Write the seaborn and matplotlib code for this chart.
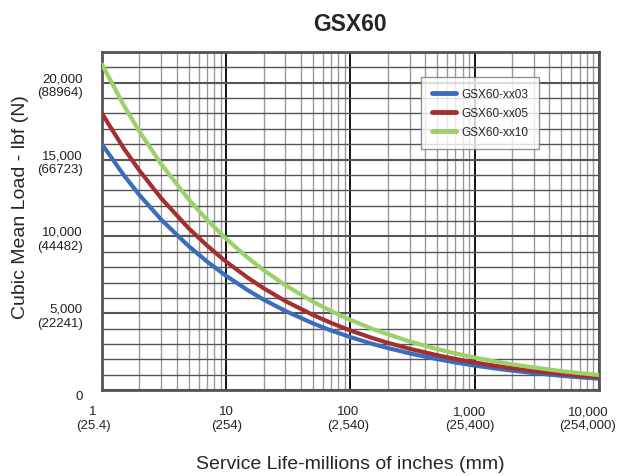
import matplotlib
matplotlib.use('Agg')
import matplotlib.pyplot as plt
from matplotlib.ticker import FixedLocator, MultipleLocator, NullFormatter
from matplotlib.transforms import ScaledTranslation
import pandas as pd
import numpy as np
import seaborn as sns

sns.set_style('white')
plt.rcParams['font.family'] = ['Liberation Sans', 'DejaVu Sans']

# service life, millions of inches
life = [1, 1.5, 2, 3, 5, 7, 10, 15, 20, 30, 50, 70, 100, 150, 200, 300, 500, 700,
        1000, 1500, 2000, 3000, 5000, 7000, 10000]

# cubic mean load, lbf
load_xx03 = [16000, 13980, 12700, 11090, 9360, 8370, 7430, 6490, 5890, 5150, 4340,
             3880, 3450, 3010, 2740, 2390, 2020, 1800, 1600, 1400, 1270, 1110, 935,
             840, 745]
load_xx05 = [18000, 15720, 14290, 12480, 10520, 9410, 8350, 7300, 6630, 5790, 4890,
             4370, 3880, 3390, 3080, 2690, 2270, 2030, 1800, 1570, 1430, 1250, 1050,
             940, 835]
load_xx10 = [21200, 18520, 16830, 14700, 12400, 11080, 9840, 8600, 7810, 6820, 5750,
             5140, 4570, 3990, 3630, 3170, 2670, 2390, 2120, 1850, 1680, 1470, 1240,
             1110, 985]

names = ['GSX60-xx03', 'GSX60-xx05', 'GSX60-xx10']
colors = ['#3a6dbb', '#a3302f', '#9bd06a']

x_ticks = [1, 10, 100, 1000, 10000]
x_labels = ['1\n(25.4)', '10\n(254)', '100\n(2,540)', '1,000\n(25,400)',
            '10,000\n(254,000)']
y_ticks = [0, 5000, 10000, 15000, 20000]
y_labels = ['0', '5,000\n(22241)', '10,000\n(44482)', '15,000\n(66723)',
            '20,000\n(88964)']

df = pd.DataFrame({
    'life': life * 3,
    'load': load_xx03 + load_xx05 + load_xx10,
    'model': [names[0]] * len(life) + [names[1]] * len(life) + [names[2]] * len(life),
})

fig = plt.figure(figsize=(6.18, 4.77), dpi=100)
ax = fig.add_axes([0.165, 0.180, 0.804, 0.709])

sns.lineplot(data=df, x='life', y='load', hue='model', palette=colors,
             linewidth=3, ax=ax, zorder=5)

ax.set_xscale('log')
ax.set_xlim(1, 10000)
ax.set_ylim(0, 22000)

# grid
ax.yaxis.set_major_locator(FixedLocator(y_ticks))
ax.yaxis.set_minor_locator(MultipleLocator(1000))
minor_x = [m * 10 ** d for d in range(4) for m in range(2, 10)]
ax.xaxis.set_major_locator(FixedLocator(x_ticks))
ax.xaxis.set_minor_locator(FixedLocator(minor_x))
ax.xaxis.set_minor_formatter(NullFormatter())

ax.grid(which='major', axis='x', color='black', linewidth=1.3)
ax.grid(which='minor', axis='x', color='#9a9a9a', linewidth=1.0)
ax.grid(which='major', axis='y', color='#555555', linewidth=1.5)
ax.grid(which='minor', axis='y', color='#555555', linewidth=1.0)

ax.set_yticklabels(y_labels)
ax.set_xticklabels(x_labels)

ax.tick_params(axis='both', which='both', direction='out', length=3, width=1,
               color='#555555', labelsize=9.5, labelcolor='#222222')
ax.tick_params(axis='x', which='major', pad=8)
ax.tick_params(axis='y', which='major', pad=11)
for s in ax.spines.values():
    s.set_color('#555555')
    s.set_linewidth(2)

# x labels in the original sit a little left of their ticks
shifts = [-9, 0, -2, -5, -11]
for lab, dx in zip(ax.get_xticklabels(), shifts):
    lab.set_transform(lab.get_transform() + ScaledTranslation(dx / 100, 0, fig.dpi_scale_trans))
# the "0" label sits a bit low
ax.get_yticklabels()[0].set_transform(
    ax.get_yticklabels()[0].get_transform() + ScaledTranslation(0, -4 / 100, fig.dpi_scale_trans))

ax.set_title('GSX60', fontsize=16.5, fontweight='bold', pad=16)
ax.set_xlabel('Service Life-millions of inches (mm)', fontsize=14, labelpad=17)
ax.set_ylabel('Cubic Mean Load - lbf (N)', fontsize=14)
ax.yaxis.set_label_coords(-0.147, 0.545)

leg = ax.legend(loc='upper left', bbox_to_anchor=(0.643, 0.925), fontsize=8.5,
                frameon=True, fancybox=False, handlelength=2.0, handletextpad=0.5,
                borderpad=0.9, labelspacing=0.6, borderaxespad=0)
leg.get_frame().set_edgecolor('#777777')
leg.get_frame().set_linewidth(1)
leg.set_zorder(10)
for line in leg.get_lines():
    line.set_linewidth(3.5)

fig.savefig('out.png', dpi=100)
